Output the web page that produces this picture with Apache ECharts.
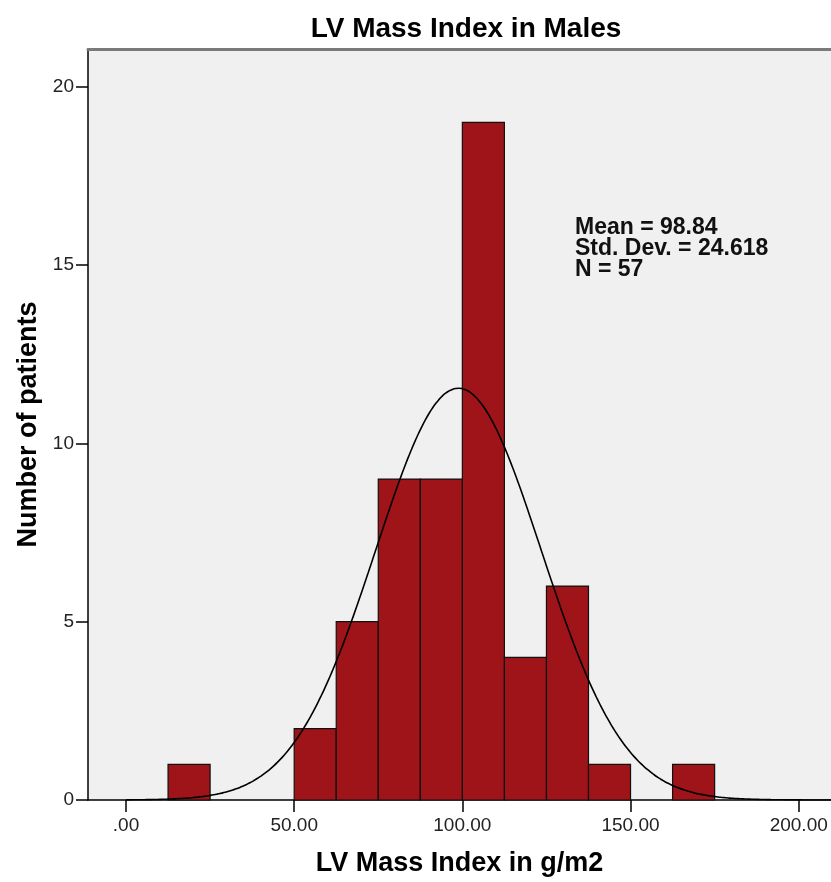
<!DOCTYPE html>
<html>
<head>
<meta charset="utf-8">
<script src="https://cdn.jsdelivr.net/npm/echarts@6/dist/echarts.min.js"></script>
<style>html,body{margin:0;padding:0;background:#fff}#c{width:831px;height:882px}</style>
</head>
<body>
<div id="c"></div>
<script>
// Histogram bins (g/m2) and counts
const binStarts = [12.5, 50, 62.5, 75, 87.5, 100, 112.5, 125, 137.5, 162.5];
const binWidth = 12.5;
const counts = [1, 2, 5, 9, 9, 19, 4, 6, 1, 1];
const xTicks = [0, 50, 100, 150, 200];
const xTickLabels = ['.00', '50.00', '100.00', '150.00', '200.00'];
const yTicks = [0, 5, 10, 15, 20];
const stats = { mean: 98.84, sd: 24.618, n: 57 };

const barData = binStarts.map((s, i) => [s, s + binWidth, counts[i]]);
// Fitted normal curve from the stated mean, SD and N
const curve = [];
for (let x = 0; x <= 210; x += 1) {
  const z = (x - stats.mean) / stats.sd;
  curve.push([x, stats.n * binWidth / (stats.sd * Math.sqrt(2 * Math.PI)) * Math.exp(-0.5 * z * z)]);
}

const chart = echarts.init(document.getElementById('c'));
const font = 'Arial, "Liberation Sans", sans-serif';
chart.setOption({
  animation: false,
  title: {
    text: 'LV Mass Index in Males', left: 461, top: 10, textAlign: 'center',
    textStyle: { fontFamily: font, fontSize: 28, fontWeight: 'bold', color: '#000' }
  },
  grid: { left: 88, top: 49, right: 0, bottom: 82, show: true, backgroundColor: '#f0f0f0', borderWidth: 0, outerBoundsMode: 'none', containLabel: false },
  xAxis: [{
    type: 'value', min: -11.3, max: 209.6,
    name: 'LV Mass Index in g/m2', nameLocation: 'middle', nameGap: 50,
    nameTextStyle: { fontFamily: font, fontSize: 27, fontWeight: 'bold', color: '#000' },
    axisLine: { show: true, onZero: false, lineStyle: { color: '#000', width: 1.5 } },
    axisTick: { show: true, length: 12, inside: false, customValues: xTicks, lineStyle: { color: '#000', width: 1.5 } },
    axisLabel: { customValues: xTicks, formatter: v => xTickLabels[xTicks.indexOf(v)], fontFamily: font, fontSize: 19, color: '#222', margin: 16 },
    splitLine: { show: false }
  }, {
    type: 'value', position: 'top', min: -11.3, max: 209.6,
    axisLine: { show: true, onZero: false, lineStyle: { color: '#7a7a7a', width: 3 } },
    axisTick: { show: false }, axisLabel: { show: false }, splitLine: { show: false }
  }],
  yAxis: {
    type: 'value', min: 0, max: 21.06,
    name: 'Number of patients', nameLocation: 'middle', nameGap: 43,
    nameTextStyle: { fontFamily: font, fontSize: 27, fontWeight: 'bold', color: '#000' },
    axisLine: { show: true, onZero: false, lineStyle: { color: '#000', width: 1.5 } },
    axisTick: { show: true, length: 12, customValues: yTicks, lineStyle: { color: '#000', width: 1.5 } },
    axisLabel: { customValues: yTicks, fontFamily: font, fontSize: 19, color: '#222', margin: 14 },
    splitLine: { show: false }
  },
  graphic: [{
    type: 'text', left: 575, top: 216,
    style: {
      text: 'Mean = ' + stats.mean.toFixed(2) + '\nStd. Dev. = ' + stats.sd.toFixed(3) + '\nN = ' + stats.n,
      fontFamily: font, fontSize: 23, fontWeight: 'bold', fill: '#111', lineHeight: 21
    }
  }],
  series: [{
    type: 'custom',
    data: barData,
    encode: { x: [0, 1], y: 2 },
    renderItem: function (params, api) {
      const p0 = api.coord([api.value(0), api.value(2)]);
      const p1 = api.coord([api.value(1), 0]);
      return {
        type: 'rect',
        shape: { x: p0[0], y: p0[1], width: p1[0] - p0[0], height: p1[1] - p0[1] },
        style: { fill: '#9e1418', stroke: '#111', lineWidth: 1.2 }
      };
    }
  }, {
    type: 'line', data: curve, showSymbol: false, smooth: true,
    lineStyle: { color: '#000', width: 1.6 }, z: 5
  }]
});
</script>
</body>
</html>
